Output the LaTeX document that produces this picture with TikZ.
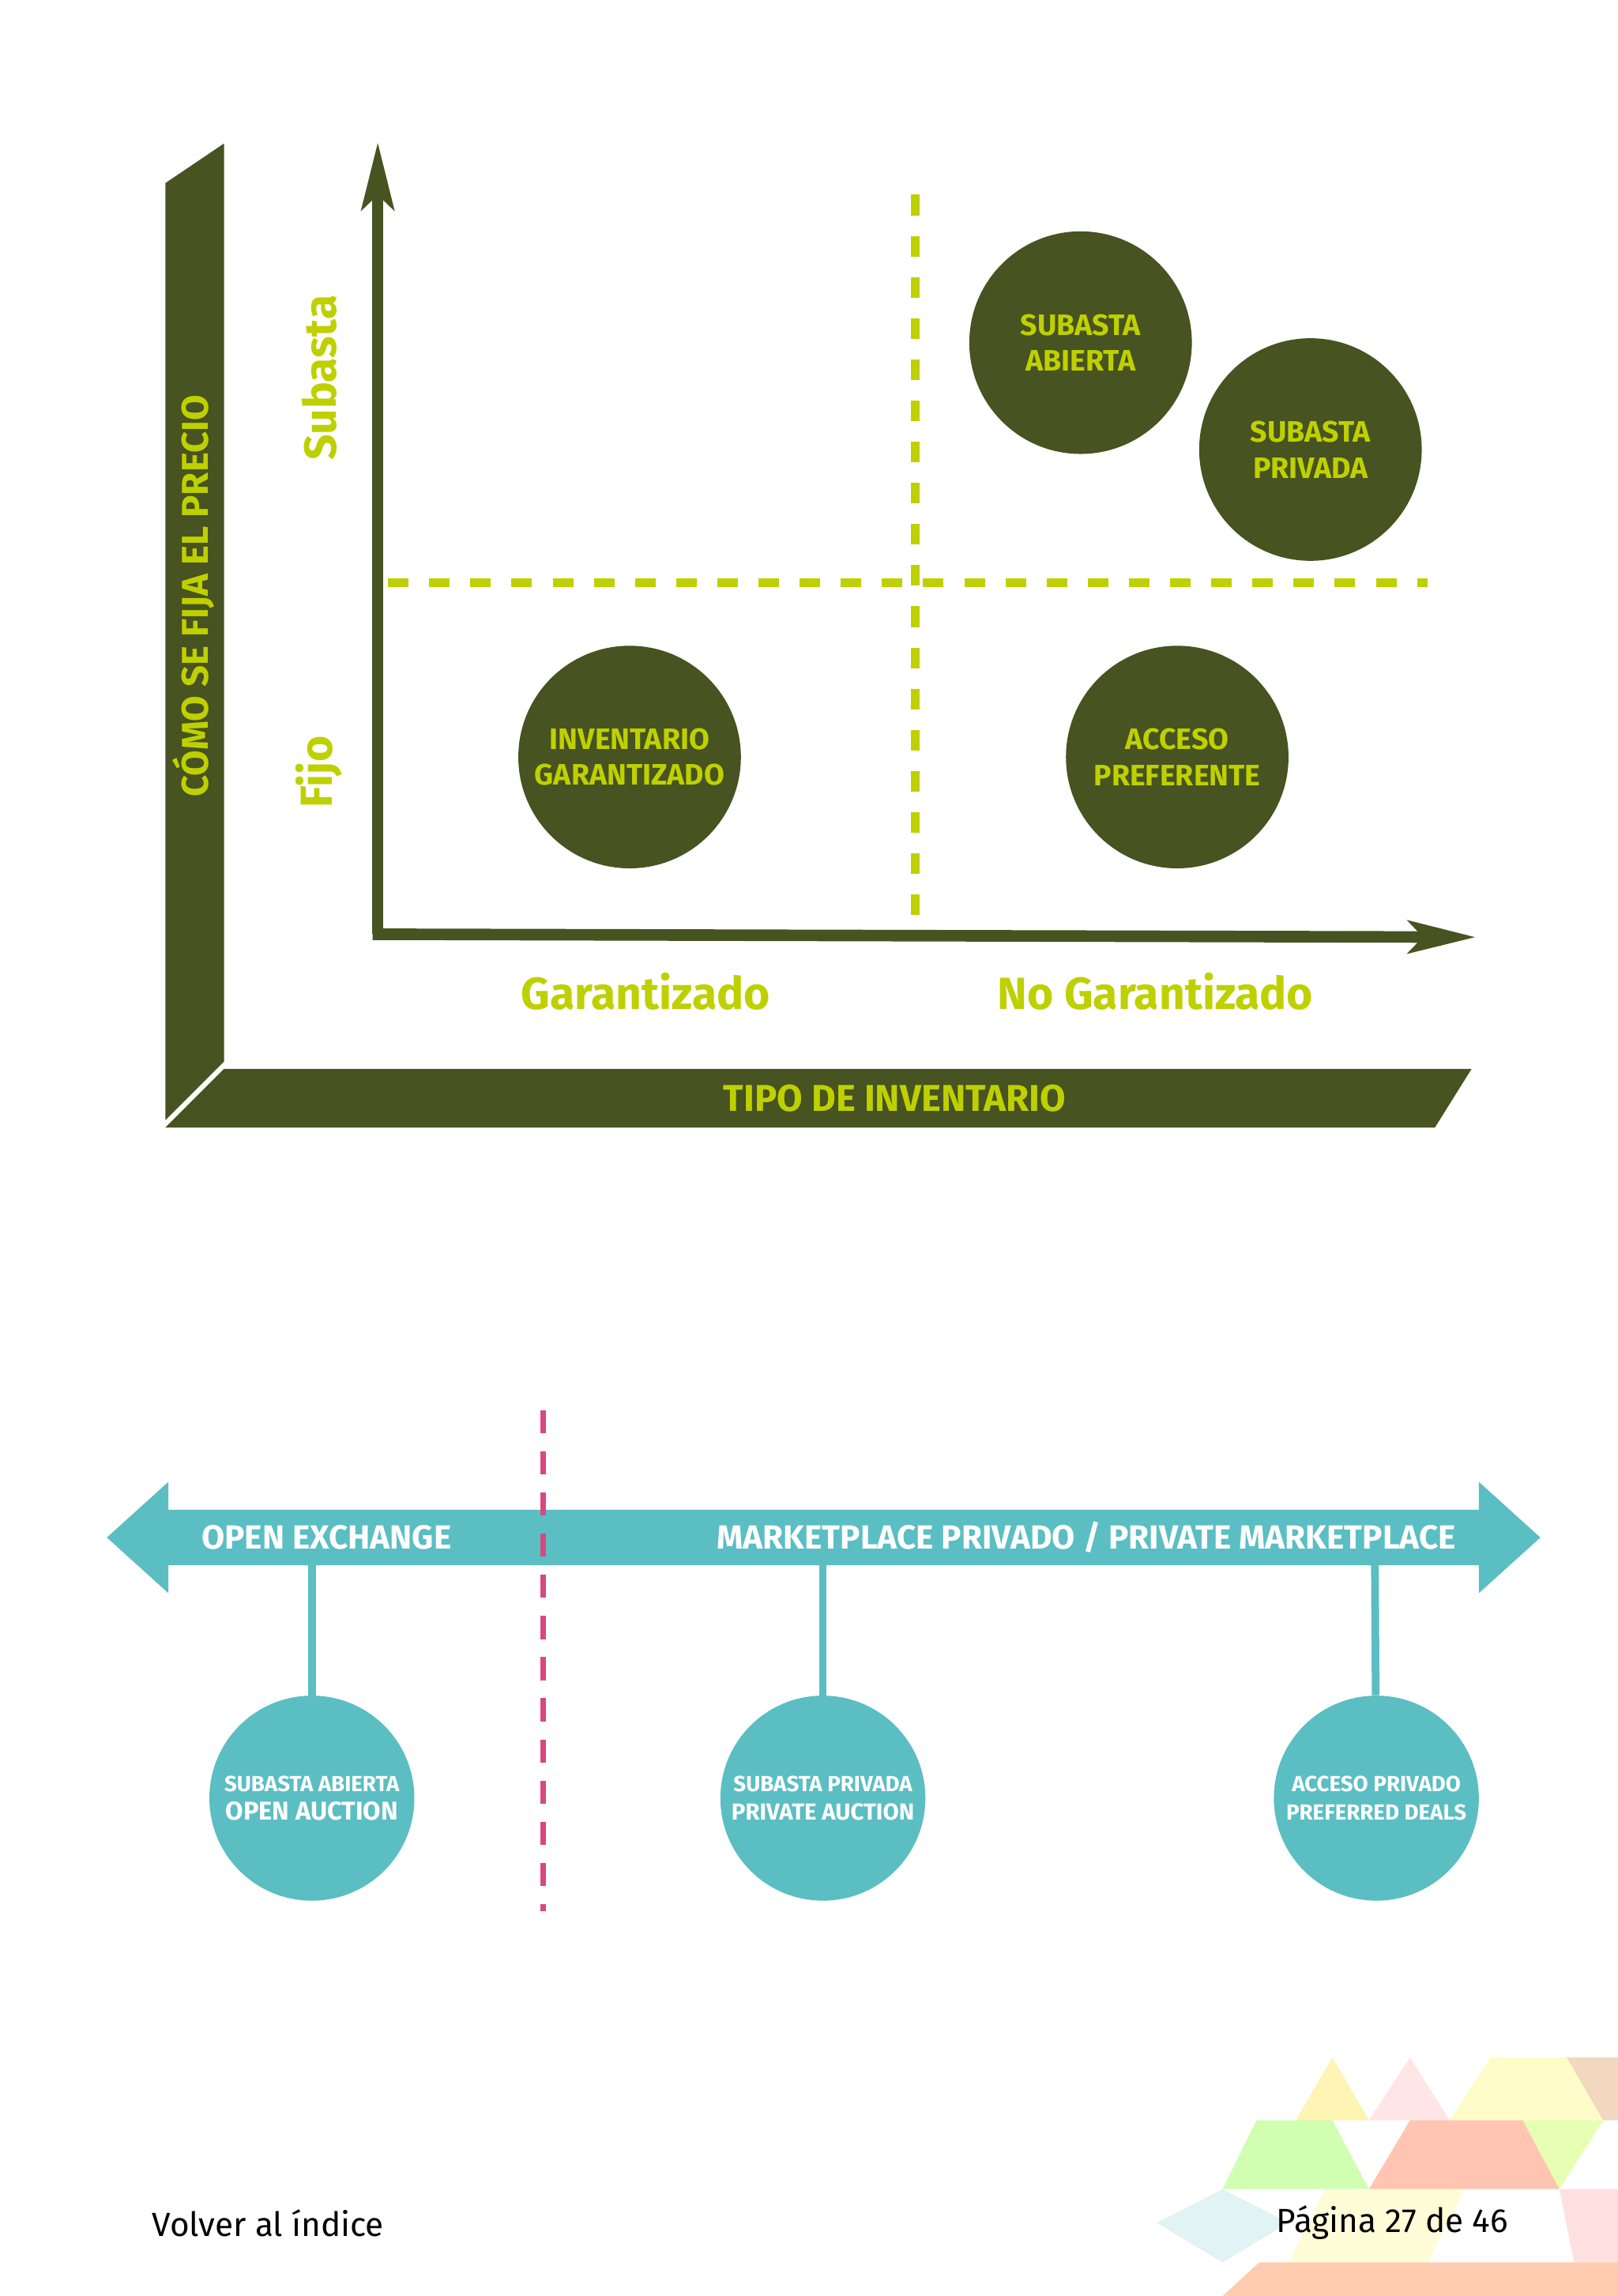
\documentclass[tikz,border=0pt]{standalone}
\usepackage{fontspec}
\setmainfont{Fira Sans}
\usetikzlibrary{arrows.meta}
\definecolor{olive}{HTML}{475320}
\definecolor{lime}{HTML}{BFD000}
\definecolor{teal}{HTML}{5BBEC3}
\definecolor{pinkd}{HTML}{D8487F}
\begin{document}
\begin{tikzpicture}[x=0.02cm,y=-0.02cm,
  big/.style={circle,fill=olive,minimum size=152*0.02cm,inner sep=0pt,align=center,text=lime,font=\fontsize{11.5}{14}\selectfont\bfseries},
  small/.style={circle,fill=teal,minimum size=140*0.02cm,inner sep=0pt,align=center,text=white,font=\fontsize{8.5}{11}\selectfont\bfseries},
  lbl/.style={text=lime,font=\fontsize{17.5}{22}\selectfont\bfseries},
  stem/.style={teal,line width=3pt}]
\useasboundingbox (0,0) rectangle (1105,1568);
\fill[white] (0,0) rectangle (1105,1568);
% 3D bars
\fill[olive] (113,125)--(153,98)--(153,725)--(113,765)--cycle;
\node[rotate=90,text=lime,font=\fontsize{14.5}{18}\selectfont\bfseries] (ylab) at (132,407) {CÓMO SE FIJA EL PRECIO};
\fill[olive] (113,770)--(153,730)--(1005,730)--(980,770)--cycle;
\node[text=lime,font=\fontsize{14.5}{18}\selectfont\bfseries] (xlab) at (611,750) {TIPO DE INVENTARIO};
% dashed
\coordinate (v1) at (625,133); \coordinate (v2) at (625,637);
\coordinate (h1) at (265,398); \coordinate (h2) at (975,398);
\draw[lime,line width=3.2pt,dash pattern=on 8pt off 8pt] (v1)--(v2);
\draw[lime,line width=3.2pt,dash pattern=on 8pt off 8pt] (h1)--(h2);
% axes
\coordinate (o) at (258,638); \coordinate (yt) at (258,97); \coordinate (xt) at (1008,640);
\draw[olive,line width=4.5pt,-{Stealth[length=46*0.02cm,width=22*0.02cm,inset=10*0.02cm]}] (o)--(yt);
\draw[olive,line width=4.5pt,-{Stealth[length=46*0.02cm,width=22*0.02cm,inset=10*0.02cm]}] ([xshift=-2pt]o)--(xt);
% circles
\node[big] (sa) at (738,234) {SUBASTA\\ABIERTA};
\node[big] (sp) at (895,307) {SUBASTA\\PRIVADA};
\node[big] (ig) at (430,517) {INVENTARIO\\GARANTIZADO};
\node[big] (ap) at (804,517) {ACCESO\\PREFERENTE};
\node[lbl,rotate=90] (sub) at (218,258) {Subasta};
\node[lbl,rotate=90] (fijo) at (218,527) {Fijo};
\node[lbl] (gar) at (441,677) {Garantizado};
\node[lbl] (ngar) at (789,677) {No Garantizado};
% bottom band
\fill[teal] (73,1050)--(115,1012)--(115,1031)--(1010,1031)--(1010,1012)--(1052,1050)--(1010,1088)--(1010,1069)--(115,1069)--(115,1088)--cycle;
\node[text=white,font=\fontsize{13}{16}\selectfont\bfseries] (oe) at (223,1050) {OPEN EXCHANGE};
\node[text=white,font=\fontsize{13}{16}\selectfont\bfseries] (mp) at (742,1050) {MARKETPLACE PRIVADO / PRIVATE MARKETPLACE};
\coordinate (pd1) at (371,963); \coordinate (pd2) at (371,1305);
\draw[pinkd,line width=2.2pt,dash pattern=on 9pt off 7pt] (pd1)--(pd2);
\coordinate (s1) at (213,1069); \coordinate (s2) at (562,1069); \coordinate (s3) at (939,1069);
\node[small] (c1) at (213,1228) {SUBASTA ABIERTA\\{\fontsize{10}{12}\selectfont OPEN AUCTION}};
\node[small] (c2) at (562,1228) {SUBASTA PRIVADA\\{\fontsize{9}{11}\selectfont PRIVATE AUCTION}};
\node[small] (c3) at (940,1228) {ACCESO PRIVADO\\PREFERRED DEALS};
\draw[stem] (s1)--(c1); \draw[stem] (s2)--(c2); \draw[stem] (s3)--(c3);
% decoration
\begin{scope}[opacity=0.3]
\fill[yellow!80!orange] (885,1448)--(910,1405)--(935,1448)--cycle;
\fill[pink!90!red] (935,1448)--(963,1405)--(990,1448)--cycle;
\fill[yellow!70] (990,1448)--(1018,1405)--(1070,1405)--(1095,1448)--cycle;
\fill[brown!70!orange] (1070,1405)--(1105,1405)--(1105,1448)--(1095,1448)--cycle;
\fill[green!60!yellow] (835,1495)--(858,1448)--(910,1448)--(935,1495)--cycle;
\fill[red!50!orange] (935,1495)--(963,1448)--(1040,1448)--(1065,1495)--cycle;
\fill[green!30!yellow] (1040,1448)--(1095,1448)--(1065,1495)--cycle;
\fill[teal!60] (790,1518)--(835,1495)--(880,1518)--(835,1545)--cycle;
\fill[orange!70!red] (835,1568)--(860,1545)--(1105,1545)--(1105,1568)--cycle;
\fill[yellow!50] (880,1545)--(905,1495)--(1000,1495)--(975,1545)--cycle;
\fill[pink!80!red] (1065,1495)--(1105,1495)--(1105,1545)--(1075,1545)--cycle;
\end{scope}
\node[font=\fontsize{13}{16}\selectfont] (back) at (183,1518) {Volver al índice};
\node[font=\fontsize{13}{16}\selectfont] (pg) at (951,1518) {Página 27 de 46};
\end{tikzpicture}
\end{document}
